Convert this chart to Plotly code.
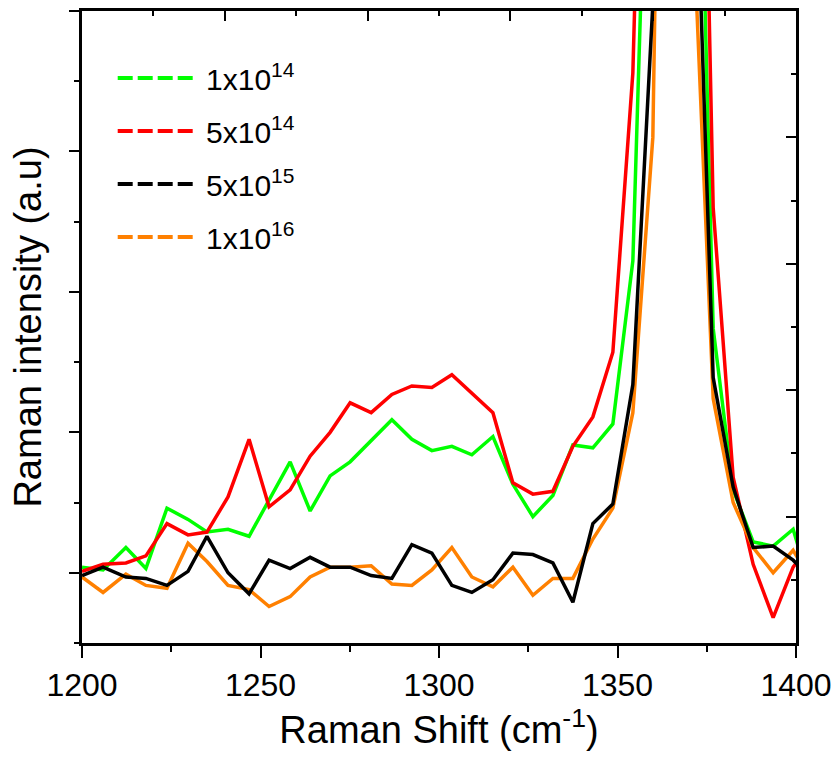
import plotly.graph_objects as go

# Raman shift positions (cm^-1)
shift = [1200.0, 1205.9, 1212.3, 1217.9, 1223.8, 1229.7, 1235.0, 1240.9, 1246.8, 1252.4,
         1258.3, 1263.9, 1269.5, 1275.1, 1281.0, 1286.8, 1292.4, 1298.0, 1303.6, 1309.2,
         1315.1, 1320.7, 1326.3, 1331.9, 1337.5, 1343.1, 1348.7, 1354.3, 1359.9, 1365.5,
         1371.1, 1376.8, 1382.4, 1388.0, 1393.6, 1399.2, 1404.8]

# intensities (a.u.)
green_1e14 = [0.04, 0.02, 0.18, 0.03, 0.46, 0.38, 0.29, 0.31, 0.26, 0.52,
              0.79, 0.44, 0.69, 0.79, 0.94, 1.09, 0.95, 0.87, 0.90, 0.84,
              0.97, 0.63, 0.40, 0.55, 0.91, 0.89, 1.06, 2.22, 6.9, 13.0,
              7.45, 1.74, 0.59, 0.22, 0.19, 0.31, -0.17]
red_5e14 = [0.01, 0.06, 0.07, 0.12, 0.35, 0.27, 0.29, 0.54, 0.95, 0.47,
            0.59, 0.83, 1.00, 1.21, 1.14, 1.27, 1.33, 1.32, 1.41, 1.28,
            1.14, 0.64, 0.56, 0.58, 0.90, 1.11, 1.57, 3.56, 8.4, 14.0,
            9.6, 2.6, 0.68, 0.06, -0.32, 0.04, 0.23]
black_5e15 = [-0.02, 0.04, -0.03, -0.04, -0.09, 0.01, 0.26, 0.00, -0.15, 0.09,
              0.03, 0.11, 0.04, 0.04, -0.02, -0.04, 0.20, 0.14, -0.09, -0.14,
              -0.05, 0.14, 0.13, 0.07, -0.21, 0.35, 0.49, 1.34, 4.05, 12.0,
              5.8, 1.39, 0.61, 0.18, 0.19, 0.09, -0.05]
orange_1e16 = [-0.03, -0.14, -0.01, -0.09, -0.11, 0.21, 0.08, -0.09, -0.12, -0.24,
               -0.17, -0.03, 0.04, 0.04, 0.05, -0.08, -0.09, 0.02, 0.18, -0.03,
               -0.10, 0.04, -0.16, -0.04, -0.04, 0.24, 0.46, 1.14, 3.1, 12.2,
               4.7, 1.24, 0.50, 0.18, 0.00, 0.16, -0.08]

labels = ["1x10<sup>14</sup>", "5x10<sup>14</sup>", "5x10<sup>15</sup>", "1x10<sup>16</sup>"]
colors = ["#00FF00", "#FF0000", "#000000", "#FF8000"]
series = [green_1e14, red_5e14, black_5e15, orange_1e16]

FONT = "Liberation Sans, Arial, sans-serif"

fig = go.Figure()

# data lines (orange drawn under black)
for idx in [0, 1, 3, 2]:
    fig.add_trace(go.Scatter(x=shift, y=series[idx], mode="lines",
                             line=dict(color=colors[idx], width=3.5),
                             showlegend=False, hoverinfo="skip"))

# legend entries (dashed samples)
for i, (lab, col) in enumerate(zip(labels, colors)):
    fig.add_trace(go.Scatter(x=[None], y=[None], mode="lines", name="&nbsp;" + lab,
                             legendgroup="g%d" % i,
                             line=dict(color=col, width=4, dash="15px,5px")))

# dummy trace for the top/right axes
fig.add_trace(go.Scatter(x=[None], y=[None], xaxis="x2", yaxis="y2",
                         showlegend=False, hoverinfo="skip"))

fig.update_layout(
    width=838, height=758,
    margin=dict(l=82, r=42, t=11, b=115, autoexpand=False),
    paper_bgcolor="white", plot_bgcolor="white",
    font=dict(family=FONT, color="black"),
    showlegend=True,
    legend=dict(x=0.043, y=0.935, xanchor="left", yanchor="top",
                bgcolor="rgba(0,0,0,0)", font=dict(size=30, family=FONT),
                itemwidth=75, traceorder="grouped", tracegroupgap=11),
    xaxis=dict(range=[1200, 1400], showgrid=False, zeroline=False, automargin=False,
               showline=True, linewidth=3, linecolor="black",
               ticks="outside", ticklen=12, tickwidth=2, tickcolor="black",
               tick0=1200, dtick=50,
               minor=dict(ticks="outside", ticklen=6, tickwidth=2, dtick=25, tickcolor="black"),
               tickfont=dict(size=32, family=FONT),
               title=dict(text="Raman Shift (cm<sup>-1</sup>)", font=dict(size=38, family=FONT),
                          standoff=8)),
    xaxis2=dict(overlaying="x", side="top", anchor="y", range=[0, 5], automargin=False,
                showgrid=False, zeroline=False, showline=True, linewidth=3, linecolor="black",
                ticks="inside", ticklen=10, tickwidth=2, tickcolor="black", dtick=1, tick0=0,
                minor=dict(ticks="inside", ticklen=5, tickwidth=2, dtick=0.5, tickcolor="black"),
                showticklabels=False),
    yaxis=dict(range=[-0.5, 4.0], showgrid=False, zeroline=False, automargin=False,
               showline=True, linewidth=3, linecolor="black",
               ticks="outside", ticklen=10, tickwidth=2, tickcolor="black", tick0=0, dtick=1,
               minor=dict(ticks="outside", ticklen=5, tickwidth=2, dtick=0.5, tickcolor="black"),
               showticklabels=False,
               title=dict(text="Raman intensity (a.u)", font=dict(size=38, family=FONT),
                          standoff=16)),
    yaxis2=dict(overlaying="y", side="right", anchor="x", range=[0, 5], automargin=False,
                showgrid=False, zeroline=False, showline=True, linewidth=3, linecolor="black",
                ticks="inside", ticklen=10, tickwidth=2, tickcolor="black", dtick=1, tick0=0,
                minor=dict(ticks="inside", ticklen=5, tickwidth=2, dtick=0.5, tickcolor="black"),
                showticklabels=False),
)

fig.write_html("out.html")
